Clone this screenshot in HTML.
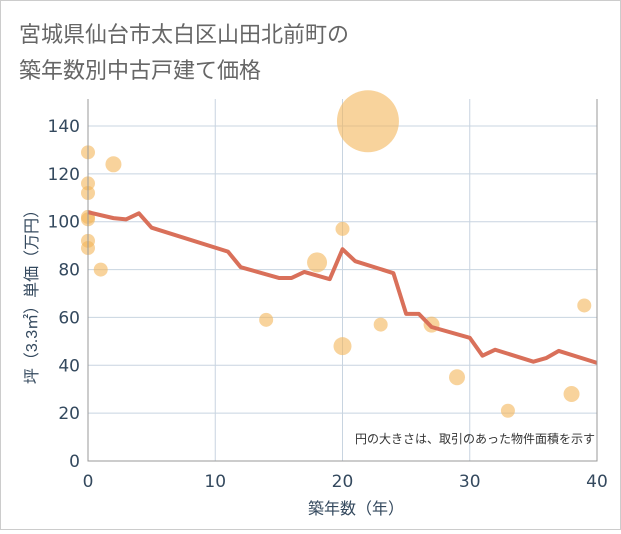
<!DOCTYPE html>
<html><head><meta charset="utf-8"><style>
body{margin:0;background:#fff}
#wrap{position:relative;width:619px;height:528px;border:1px solid #ccc;background:#fff;font-family:"Liberation Sans","Noto Sans CJK JP",sans-serif}
</style></head><body>
<div id="wrap">
<svg id="chart" width="619" height="528" xmlns="http://www.w3.org/2000/svg">
<text x="18" y="41" font-size="22" fill="#666" font-family="Liberation Sans,Noto Sans CJK JP,sans-serif">宮城県仙台市太白区山田北前町の</text>
<text x="18" y="77" font-size="22" fill="#666" font-family="Liberation Sans,Noto Sans CJK JP,sans-serif">築年数別中古戸建て価格</text>
<g id="grid"></g><g id="marks"></g><g id="axes"></g>
<text x="594" y="442" font-size="12" fill="#333" text-anchor="end" font-family="Liberation Sans,Noto Sans CJK JP,sans-serif">円の大きさは、取引のあった物件面積を示す</text>
<text x="355" y="513" font-size="16" fill="#34495e" text-anchor="middle" font-family="Liberation Sans,Noto Sans CJK JP,sans-serif">築年数（年）</text>
<text transform="translate(36,292) rotate(-90)" font-size="16" fill="#34495e" text-anchor="middle" font-family="Liberation Sans,Noto Sans CJK JP,sans-serif">坪（3.3㎡）単価（万円）</text>
</svg>
</div>
<script>
const xTicks=[0,10,20,30,40];
const yTicks=[0,20,40,60,80,100,120,140];
const lineX=[0,2,3,4,5,11,12,15,16,17,19,20,21,24,25,26,27,30,31,32,35,36,37,40];
const lineY=[104,101.5,101,103.5,97.5,87.5,81,76.5,76.5,79,76,88.5,83.5,78.5,61.5,61.5,56,51.5,44,46.5,41.5,43,46,41];
const ptX=[0,0,0,0,0,0,0,1,2,14,18,20,20,22,23,27,29,33,38,39];
const ptY=[129,116,112,102,101,92,89,80,124,59,83,97,48,142,57,57,35,21,28,65];
const ptR=[7,7,7,7,7,7,7,7,8,7,10,7,9,31,7,8,8,7,8,7];
const L=87,R=596,T=98,B=460;
const xs=v=>L+v*(R-L)/40, ys=v=>B-v*(B-125)/140;
const NS='http://www.w3.org/2000/svg';
function mk(tag,attrs,parent){const e=document.createElementNS(NS,tag);for(const k in attrs)e.setAttribute(k,attrs[k]);document.getElementById(parent).appendChild(e);return e;}
xTicks.forEach(t=>{
 const g=mk('line',{x1:xs(t),x2:xs(t),y1:T,y2:B,stroke:'#c8d4e0','stroke-width':1},'grid');
 
 
 const l=mk('text',{x:xs(t),y:B+26,'font-size':17,fill:'#34495e','text-anchor':'middle','font-family':'DejaVu Sans,sans-serif'},'axes');
 l.textContent=t;
 
 
});
yTicks.forEach(t=>{
 const g=mk('line',{x1:L,x2:R,y1:ys(t),y2:ys(t),stroke:'#c8d4e0','stroke-width':1},'grid');
 
 
 const l=mk('text',{x:L-8,y:ys(t)+6,'font-size':17,fill:'#34495e','text-anchor':'end','font-family':'DejaVu Sans,sans-serif'},'axes');
 l.textContent=t;
 
 
});
const ax=mk('path',{d:`M${L},${T}V${B}H${R}V${T}`,fill:'none',stroke:'#999','stroke-width':1},'axes');


ptX.forEach((x,i)=>{
 const c=mk('circle',{cx:xs(x),cy:ys(ptY[i]),r:ptR[i],fill:'#f3b65a','fill-opacity':0.6},'marks');
 
 
});
const p=mk('polyline',{points:lineX.map((x,i)=>xs(x)+','+ys(lineY[i])).join(' '),fill:'none',stroke:'#d9705a','stroke-width':4,'stroke-linejoin':'round'},'marks');


</script>
</body></html>
